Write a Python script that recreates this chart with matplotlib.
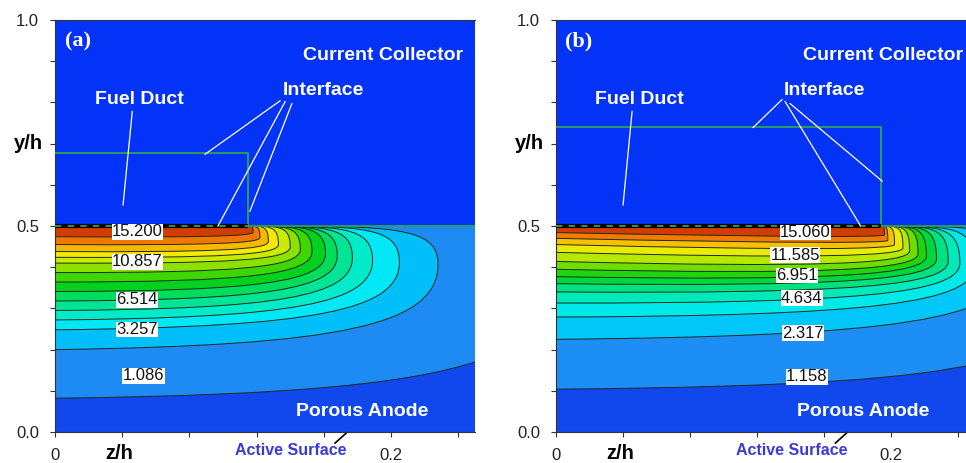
import numpy as np
import matplotlib.pyplot as plt
from matplotlib.path import Path
from matplotlib.patches import PathPatch
from matplotlib.colors import LinearSegmentedColormap

plt.rcParams['font.family'] = ['Liberation Sans', 'DejaVu Sans']

# ---------------- data ----------------
# geometry (z/h, y/h)
z_end = 0.25
interface_y = 0.5
duct_w_a, duct_h_a = 0.115, 0.677
duct_w_b, duct_h_b = 0.194, 0.740

# panel (a): contour levels and shape of every contour line
levels_a = [1.086, 2.171, 3.257, 4.343, 5.429, 6.514, 7.600, 8.686, 9.771,
            10.857, 11.943, 13.029, 14.114, 15.200]
yleft_a = [0.082, 0.200, 0.248, 0.272, 0.295, 0.318, 0.341, 0.364, 0.387,
           0.410, 0.424, 0.438, 0.455, 0.474]
yknee_a = [0.089, 0.210, 0.255, 0.277, 0.298, 0.320, 0.342, 0.364, 0.386,
           0.408, 0.422, 0.436, 0.453, 0.472]
zmax_a = [None, 0.228, 0.205, 0.189, 0.177, 0.168, 0.161, 0.153, 0.146,
          0.140, 0.133, 0.127, 0.122, 0.118]
ymax_a = [0.170, 0.408, 0.412, 0.417, 0.423, 0.428, 0.433, 0.438, 0.443,
          0.449, 0.455, 0.462, 0.472, 0.485]
ztop_a = [None, 0.200, 0.183, 0.170, 0.161, 0.154, 0.149, 0.143, 0.138,
          0.134, 0.128, 0.124, 0.120, 0.117]
labels_a = ['15.200', '10.857', '6.514', '3.257', '1.086']
label_z_a = [0.049, 0.049, 0.049, 0.049, 0.0527]
label_y_a = [0.486, 0.413, 0.321, 0.249, 0.136]

# panel (b)
levels_b = [1.158, 2.317, 3.475, 4.634, 5.792, 6.951, 8.109, 9.268, 10.426,
            11.585, 12.743, 13.902, 15.060]
yleft_b = [0.104, 0.225, 0.279, 0.313, 0.340, 0.360, 0.377, 0.395, 0.414,
           0.436, 0.455, 0.470, 0.484]
yknee_b = [0.109, 0.232, 0.282, 0.312, 0.335, 0.352, 0.366, 0.381, 0.398,
           0.420, 0.440, 0.457, 0.472]
zmax_b = [None, 0.270, 0.250, 0.241, 0.234, 0.227, 0.221, 0.216, 0.211,
          0.207, 0.202, 0.198, 0.196]
ymax_b = [0.165, 0.400, 0.405, 0.410, 0.415, 0.420, 0.427, 0.433, 0.440,
          0.447, 0.455, 0.465, 0.478]
ztop_b = [None, 0.253, 0.236, 0.229, 0.224, 0.219, 0.214, 0.211, 0.207,
          0.204, 0.200, 0.197, 0.1955]
labels_b = ['15.060', '11.585', '6.951', '4.634', '2.317', '1.158']
label_z_b = [0.1487, 0.1427, 0.1436, 0.1466, 0.1472, 0.1496]
label_y_b = [0.484, 0.429, 0.380, 0.325, 0.240, 0.134]

# band colours, low -> high (Tecplot-like rainbow)
band_colors = ['#1048EE', '#1E8CF5', '#00C0FA', '#00E8F5', '#00EBC8',
               '#00E496', '#00DC5A', '#00D21E', '#3CD700', '#8CE100',
               '#C8EB00', '#F5EB00', '#FAB900', '#F07800', '#D23C00']
collector_blue = '#0433F8'
green = '#2BA453'
cmap = LinearSegmentedColormap.from_list('bands', band_colors)


def contour_paths(yl, yk, zm, ym, zt, corner):
    top = interface_y
    if zm is None:  # line leaving through the right edge
        verts = [(0, yl), (0.6 * z_end, yk), (0.85 * z_end, yk + 0.4 * (ym - yk)), (z_end, ym)]
        codes = [Path.MOVETO] + [Path.CURVE4] * 3
        close = [(z_end, top), (0, top), (0, yl)]
    else:
        verts = [(0, yl), (0.75 * zm, yk), (zm, yk + 0.25 * (ym - yk)), (zm, ym),
                 (zm, top), (zt, top), (corner, top)]
        codes = [Path.MOVETO] + [Path.CURVE4] * 6
        close = [(0, top), (0, yl)]
    line = Path(verts, codes)
    fill = Path(verts + close, codes + [Path.LINETO] * (len(close) - 1) + [Path.CLOSEPOLY])
    return fill, line


def draw_panel(ax, tag, levels, yleft, yknee, zmax, ymax, ztop, duct_w, duct_h,
               labels, lab_z, lab_y, leaders):
    ax.set_facecolor(collector_blue)
    ax.fill_between([0, z_end], 0, interface_y, color=band_colors[0], lw=0, zorder=1)
    nb = len(levels)
    lines = []
    for i in range(nb):
        fill, line = contour_paths(yleft[i], yknee[i], zmax[i], ymax[i], ztop[i], duct_w)
        ax.add_patch(PathPatch(fill, facecolor=cmap((i + 1) / nb), edgecolor='none', zorder=2))
        lines.append(line)
    for line in lines:
        ax.add_patch(PathPatch(line, facecolor='none', edgecolor='#1c2a1c', lw=0.7, zorder=3))

    # fuel duct outline and interface
    ax.plot([0, duct_w, duct_w, z_end], [duct_h, duct_h, interface_y, interface_y],
            color=green, lw=1.3, zorder=4)
    ax.plot([0, duct_w], [interface_y, interface_y], color='black', lw=3.0, zorder=4,
            solid_capstyle='butt')
    ax.plot([0, duct_w], [interface_y, interface_y], color=green, lw=1.3, zorder=5,
            dashes=(3.5, 3.5))

    for t, zx, yy in zip(labels, lab_z, lab_y):
        ax.text(zx, yy, t, fontsize=12, ha='center', va='center', color='#111111', zorder=6,
                bbox=dict(facecolor='white', edgecolor='none', pad=0.3))

    # annotations
    wt = dict(color='white', fontsize=14, fontweight='bold', zorder=7)
    ax.text(0.1475, 0.915, 'Current Collector', ha='left', va='center', **wt)
    ax.text(0.050, 0.807, 'Fuel Duct', ha='center', va='center', **wt)
    ax.text(0.160, 0.829, 'Interface', ha='center', va='center', **wt)
    ax.text(0.183, 0.050, 'Porous Anode', ha='center', va='center', **wt)
    ax.text(0.0135, 0.947, tag, ha='center', va='center', color='white', fontsize=16,
            fontweight='bold', family='Liberation Serif', zorder=7)
    for (z0, y0), (z1, y1) in leaders:
        ax.plot([z0, z1], [y0, y1], color='white', lw=0.9, zorder=6)

    ax.text(0.1405, -0.046, 'Active Surface', ha='center', va='center', color='#3A3AD6',
            fontsize=11.5, fontweight='bold', clip_on=False)
    ax.plot([0.1667, 0.1735], [-0.027, -0.002], color='black', lw=1.2, clip_on=False)
    ax.text(0.038, -0.051, 'z/h', ha='center', va='center', fontsize=14.5,
            fontweight='bold', clip_on=False)
    ax.text(-0.016, 0.7, 'y/h', ha='center', va='center', fontsize=14.5,
            fontweight='bold', clip_on=False)

    ax.set_xlim(0, z_end)
    ax.set_ylim(0, 1)
    yt = [0.0, 0.1, 0.2, 0.3, 0.4, 0.5, 0.6, 0.7, 0.8, 0.9, 1.0]
    ax.set_yticks(yt)
    ax.set_yticklabels(['0.0', '', '', '', '', '0.5', '', '', '', '', '1.0'])
    xt = [0.0, 0.04, 0.08, 0.12, 0.16, 0.2, 0.24]
    ax.set_xticks(xt)
    ax.set_xticklabels(['0', '', '', '', '', '0.2', ''])
    ax.tick_params(direction='out', length=3.6, width=0.8, color='#333333',
                   labelsize=12, labelcolor='#222222', pad=8)
    ax.spines['right'].set_visible(False)
    for s in ['left', 'top', 'bottom']:
        ax.spines[s].set_color('#333333')
        ax.spines[s].set_linewidth(0.8)


leaders_a = [((0.046, 0.778), (0.0405, 0.551)),
             ((0.134, 0.804), (0.0893, 0.674)),
             ((0.137, 0.802), (0.097, 0.500)),
             ((0.141, 0.797), (0.116, 0.536))]
leaders_b = [((0.0454, 0.778), (0.040, 0.551)),
             ((0.1349, 0.807), (0.1176, 0.739)),
             ((0.1367, 0.802), (0.1815, 0.502)),
             ((0.1397, 0.797), (0.1946, 0.609))]

fig = plt.figure(figsize=(9.66, 4.63), dpi=100)
ax_a = fig.add_axes([55 / 966, 31 / 463, 420 / 966, 412 / 463])
ax_b = fig.add_axes([556 / 966, 31 / 463, 419 / 966, 412 / 463])

draw_panel(ax_a, '(a)', levels_a, yleft_a, yknee_a, zmax_a, ymax_a, ztop_a,
           duct_w_a, duct_h_a, labels_a, label_z_a, label_y_a, leaders_a)
draw_panel(ax_b, '(b)', levels_b, yleft_b, yknee_b, zmax_b, ymax_b, ztop_b,
           duct_w_b, duct_h_b, labels_b, label_z_b, label_y_b, leaders_b)

fig.savefig('out.png', dpi=100)
